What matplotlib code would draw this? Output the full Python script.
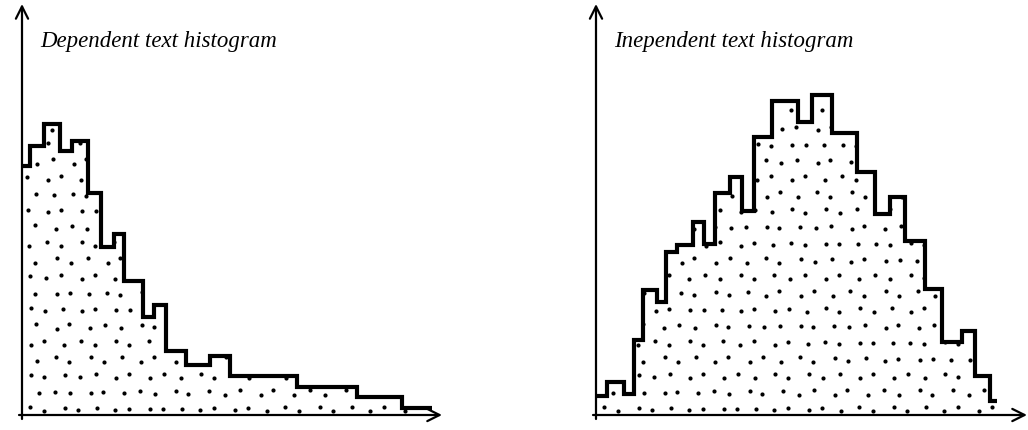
import numpy as np
import matplotlib
matplotlib.use("Agg")
import matplotlib.pyplot as plt

# ---- data (x = bin edges, y = bin heights) ----
dep_edges = [0, 8.3, 21.7, 37.7, 50, 65.7, 79, 91.7, 101.7, 121, 131.7, 144,
             164, 188.3, 208.3, 275, 335, 380, 410]
dep_heights = [249, 269, 291, 264, 274, 222, 168, 181, 134, 98, 110, 64,
               50, 59, 39, 28, 18, 7]

ind_edges = [0, 10.7, 28, 38, 47.3, 60.7, 70, 80.7, 96.7, 108.3, 119, 134,
             145.7, 158.3, 175.7, 202.3, 215.7, 235.7, 260.7, 279, 294, 309,
             329, 345.7, 365.7, 379, 394, 400.7]
ind_heights = [18.7, 32.7, 21, 75, 125, 113.3, 162.7, 170, 193.3, 171, 221.7,
               237.7, 204.3, 277.7, 314.3, 292.7, 320, 281.7, 243.3, 201,
               217.7, 174.3, 126, 72.7, 84.3, 39.3, 14.3]

titles = ["Dependent text histogram", "Inependent text histogram"]

W, H = 1028, 431
fig = plt.figure(figsize=(W / 100, H / 100), dpi=100)
fig.patch.set_facecolor("white")


def panel(left_px, width_px, edges, heights, title):
    ax = fig.add_axes([left_px / W, 15 / H, width_px / W, 411 / H])
    ax.set_xlim(0, width_px)
    ax.set_ylim(0, 411)
    ax.axis("off")

    # filled area used as clip for stipple dots
    fillp = ax.stairs(heights, edges, baseline=0, fill=True,
                      facecolor="white", edgecolor="none", zorder=1)

    # stipple texture: staggered dot grid clipped to the histogram
    sx, sy = 17.0, 16.5
    xs, ys = [], []
    for j, yy in enumerate(np.arange(6, 411, sy)):
        off = (sx / 2) if j % 2 else 0.0
        for xx in np.arange(7 + off, width_px, sx):
            xs.append(xx + 2.5 * np.sin(1.7 * xx + 2.3 * yy))
            ys.append(yy + 2.5 * np.cos(1.3 * xx + 0.7 * yy))
    sc = ax.scatter(xs, ys, s=9, color="black", linewidths=0, zorder=2)
    sc.set_clip_path(fillp)

    # outline
    ax.stairs(heights, edges, baseline=None, color="black", linewidth=3.0,
              zorder=3)

    # axes with arrows
    ax.annotate("", xy=(0, 411), xytext=(0, -4),
                arrowprops=dict(arrowstyle="->", lw=1.6, color="black",
                                mutation_scale=22, shrinkA=0, shrinkB=0),
                annotation_clip=False, zorder=4)
    ax.annotate("", xy=(width_px, 0), xytext=(-3, 0),
                arrowprops=dict(arrowstyle="->", lw=1.6, color="black",
                                mutation_scale=22, shrinkA=0, shrinkB=0),
                annotation_clip=False, zorder=4)

    ax.text(18, 369, title, fontsize=16.5, fontstyle="italic",
            family="Liberation Serif", ha="left", va="baseline")
    return ax


panel(22, 420, dep_edges, dep_heights, titles[0])
panel(596, 431, ind_edges, ind_heights, titles[1])

fig.savefig("out.png", dpi=100, facecolor="white")
